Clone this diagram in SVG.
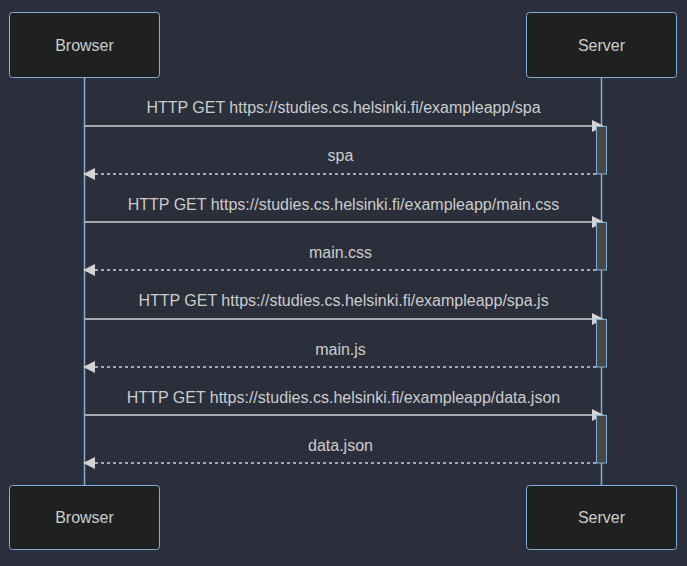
<svg xmlns="http://www.w3.org/2000/svg" width="687" height="566" viewBox="0 0 687 566">
<style>
.actor rect{fill:#1f2020;stroke:#81b1db;stroke-width:1}
.actor text{fill:#cccccc;font-family:"Liberation Sans",Arial,sans-serif;font-size:16px;text-anchor:middle;dominant-baseline:central}
.life{stroke:#81b1db;stroke-width:1.5}
.msg{stroke:#d3d3d3;stroke-width:1.5;fill:none}
.ret{stroke:#d3d3d3;stroke-width:1.5;fill:none;stroke-dasharray:3,3}
.head{fill:#d3d3d3}
.act{fill:#474949;stroke:#81b1db;stroke-width:1}
.lbl{fill:#cccccc;font-family:"Liberation Sans",Arial,sans-serif;font-size:16px;text-anchor:middle}
</style>
<rect width="687" height="566" fill="#2a2f3b"/>
<g id="lifelines">
<line class="life" x1="84.5" y1="77" x2="84.5" y2="485"/>
<line class="life" x1="601.5" y1="77" x2="601.5" y2="485"/>
</g>
<g id="connectors">
<line class="msg" x1="85" y1="126" x2="594" y2="126"/>
<polygon class="head" points="592,120 604,126 592,132"/>
<text class="lbl" x="343.5" y="113">HTTP GET https://studies.cs.helsinki.fi/exampleapp/spa</text>
<line class="ret" x1="596" y1="174" x2="92" y2="174"/>
<polygon class="head" points="95,168 83,174 95,180"/>
<text class="lbl" x="340.5" y="161">spa</text>
<line class="msg" x1="85" y1="222" x2="594" y2="222"/>
<polygon class="head" points="592,216 604,222 592,228"/>
<text class="lbl" x="343.5" y="210">HTTP GET https://studies.cs.helsinki.fi/exampleapp/main.css</text>
<line class="ret" x1="596" y1="270" x2="92" y2="270"/>
<polygon class="head" points="95,264 83,270 95,276"/>
<text class="lbl" x="340.5" y="258">main.css</text>
<line class="msg" x1="85" y1="319" x2="594" y2="319"/>
<polygon class="head" points="592,313 604,319 592,325"/>
<text class="lbl" x="343.5" y="306">HTTP GET https://studies.cs.helsinki.fi/exampleapp/spa.js</text>
<line class="ret" x1="596" y1="367" x2="92" y2="367"/>
<polygon class="head" points="95,361 83,367 95,373"/>
<text class="lbl" x="340.5" y="355">main.js</text>
<line class="msg" x1="85" y1="415" x2="594" y2="415"/>
<polygon class="head" points="592,409 604,415 592,421"/>
<text class="lbl" x="343.5" y="403">HTTP GET https://studies.cs.helsinki.fi/exampleapp/data.json</text>
<line class="ret" x1="596" y1="463" x2="92" y2="463"/>
<polygon class="head" points="95,457 83,463 95,469"/>
<text class="lbl" x="340.5" y="451">data.json</text>
</g>
<g id="activations">
<rect class="act" x="596.5" y="126.5" width="10" height="47.5"/>
<rect class="act" x="596.5" y="222.5" width="10" height="47.5"/>
<rect class="act" x="596.5" y="319.5" width="10" height="47.5"/>
<rect class="act" x="596.5" y="415.5" width="10" height="47.5"/>
</g>
<g id="browser-top" class="actor"><rect x="9.5" y="12.5" width="150" height="65" rx="3"/><text x="84.5" y="45">Browser</text></g>
<g id="server-top" class="actor"><rect x="526.5" y="12.5" width="150" height="65" rx="3"/><text x="601.5" y="45">Server</text></g>
<g id="browser-bottom" class="actor"><rect x="9.5" y="485.5" width="150" height="64" rx="3"/><text x="84.5" y="517.5">Browser</text></g>
<g id="server-bottom" class="actor"><rect x="526.5" y="485.5" width="150" height="64" rx="3"/><text x="601.5" y="517.5">Server</text></g>
</svg>
